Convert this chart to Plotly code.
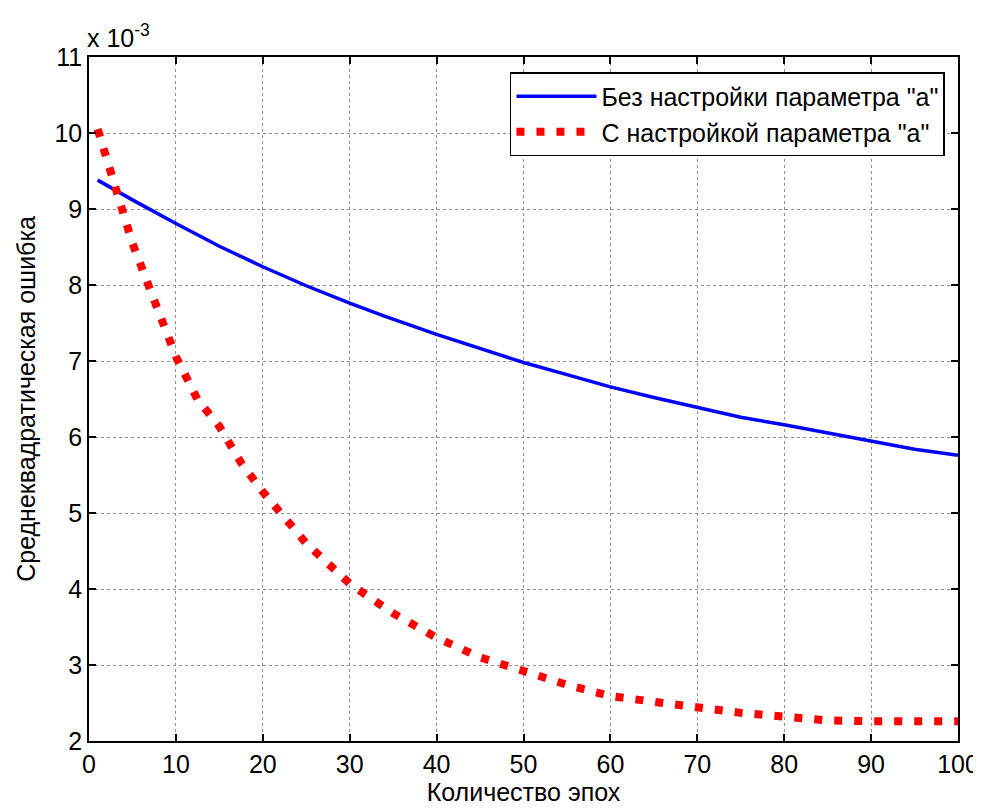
import plotly.graph_objects as go

# Values in units of 1e-3
epochs_a = [1, 5, 10, 15, 20, 25, 30, 34, 40, 45, 50, 55, 60, 65, 70, 75, 80, 85, 90, 95, 100]
mse_no_tuning = [9.38, 9.12, 8.81, 8.51, 8.24, 7.99, 7.76, 7.59, 7.35, 7.17, 6.98, 6.82, 6.66,
                 6.52, 6.39, 6.26, 6.16, 6.05, 5.94, 5.84, 5.76]

epochs_b = [1, 2, 3, 5, 7.5, 10, 12.5, 15, 17.5, 20, 25, 30, 35, 40, 45, 50, 55, 60, 65, 70,
            75, 80, 85, 90, 95, 100]
mse_tuning = [10.05, 9.68, 9.30, 8.55, 7.80, 7.06, 6.49, 6.14, 5.66, 5.28, 4.60, 4.07, 3.68,
              3.36, 3.10, 2.91, 2.74, 2.59, 2.51, 2.43, 2.37, 2.32, 2.27, 2.26, 2.26, 2.26]

x_ticks = list(range(0, 101, 10))
y_ticks = list(range(2, 12))

name_a = 'Без настройки параметра "a"'
name_b = 'С настройкой параметра "a"'

FONT = "Liberation Sans, Arial, sans-serif"

fig = go.Figure()
fig.add_trace(go.Scatter(x=epochs_a, y=mse_no_tuning, mode="lines", name=name_a,
                         line=dict(color="#0000ff", width=3.5)))
fig.add_trace(go.Scatter(x=epochs_b, y=mse_tuning, mode="lines", name=name_b,
                         line=dict(color="#ff0000", width=8, dash="8px,12px")))

axis_common = dict(showline=True, linecolor="black", linewidth=1.5, mirror="ticks",
                   ticks="inside", ticklen=7, tickcolor="black", tickwidth=1.5,
                   showgrid=True, gridcolor="#909090", griddash="dot", gridwidth=1,
                   zeroline=False, automargin=False,
                   tickfont=dict(size=25, color="black", family=FONT))

fig.update_xaxes(range=[0, 100], tickvals=x_ticks,
                 title=dict(text="Количество эпох", font=dict(size=25, color="black", family=FONT),
                            standoff=2),
                 **axis_common)
fig.update_yaxes(range=[2, 11], tickvals=y_ticks,
                 title=dict(text="Среднеквадратическая ошибка",
                            font=dict(size=25, color="black", family=FONT), standoff=12),
                 **axis_common)

fig.add_annotation(xref="paper", yref="paper", x=0, y=1, xanchor="left", yanchor="bottom",
                   xshift=-4, yshift=3, showarrow=False,
                   text="x 10<sup>-3</sup>", font=dict(size=25, color="black", family=FONT))

# The page body adds an 8px offset; margins are set so the plot box lands at
# x 89..958, y 57..741 of the 981x809 window.
fig.update_layout(
    width=973, height=801,
    margin=dict(l=81, r=23, t=49, b=68),
    paper_bgcolor="white", plot_bgcolor="white",
    font=dict(family=FONT, color="black"),
    legend=dict(x=0.985, y=0.978, xanchor="right", yanchor="top",
                bgcolor="white", bordercolor="black", borderwidth=1.5,
                font=dict(size=25, color="black", family=FONT),
                itemwidth=80, tracegroupgap=0),
    showlegend=True,
)

fig.write_html("out.html")
